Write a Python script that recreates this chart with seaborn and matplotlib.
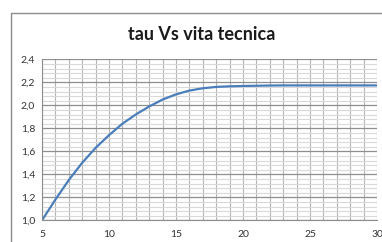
import numpy as np
import pandas as pd
import matplotlib
matplotlib.use('Agg')
import matplotlib.pyplot as plt
from matplotlib.patches import Rectangle
from matplotlib.ticker import MultipleLocator, FuncFormatter
import seaborn as sns

# Data
vita_tecnica = [5, 6, 7, 8, 9, 10, 11, 12, 13, 14, 15, 16, 17, 18, 19, 20,
                21, 22, 23, 24, 25, 26, 27, 28, 29, 30]
tau = [1.00, 1.18, 1.35, 1.50, 1.63, 1.74, 1.84, 1.92, 1.99, 2.05, 2.095, 2.128,
       2.148, 2.16, 2.165, 2.168, 2.17, 2.172, 2.173, 2.173, 2.173, 2.173,
       2.173, 2.173, 2.173, 2.173]
title = 'tau Vs vita tecnica'

df = pd.DataFrame({'vita': vita_tecnica, 'tau': tau})

sns.set_style('white')
plt.rcParams['font.family'] = ['Lato', 'DejaVu Sans']

fig = plt.figure(figsize=(3.82, 2.42), dpi=100)
ax = fig.add_axes([42 / 382, 21.7 / 242, 335 / 382, 161 / 242])

# outer chart frame (cut off on right and bottom)
fig.patches.append(Rectangle((11 / 382, -0.1), 1.2, (242 - 13) / 242 + 0.1,
                             transform=fig.transFigure, fill=False,
                             edgecolor='#8c8c8c', linewidth=1.0))

sns.lineplot(data=df, x='vita', y='tau', ax=ax, color='#4a7ebb', linewidth=1.6)

ax.set_xlim(5, 30)
ax.set_ylim(1.0, 2.4)
ax.xaxis.set_major_locator(MultipleLocator(5))
ax.xaxis.set_minor_locator(MultipleLocator(1))
ax.yaxis.set_major_locator(MultipleLocator(0.2))
ax.yaxis.set_minor_locator(MultipleLocator(0.04))
ax.yaxis.set_major_formatter(FuncFormatter(lambda v, p: f'{v:.1f}'.replace('.', ',')))

ax.grid(which='minor', axis='y', color='#d9d9d9', linewidth=0.8)
ax.grid(which='major', axis='y', color='#8f8f8f', linewidth=0.9)
ax.grid(which='both', axis='x', color='#b5b5b5', linewidth=0.8)
ax.set_axisbelow(True)

for side in ['top', 'right']:
    ax.spines[side].set_visible(False)
ax.spines['left'].set_color('#8c8c8c')
ax.spines['bottom'].set_color('#8c8c8c')

ax.tick_params(axis='both', which='major', labelsize=7.5, length=3,
               color='#8c8c8c', labelcolor='#333333', pad=2)
ax.tick_params(axis='both', which='minor', length=0)
ax.tick_params(axis='x', which='major', length=0, pad=7)
ax.set_xlabel('')
ax.set_ylabel('')

fig.text(202 / 382, 1 - 35 / 242, title, ha='center', va='center',
         fontsize=13, fontweight='bold', color='#1a1a1a')

fig.savefig('out.png', dpi=100)
